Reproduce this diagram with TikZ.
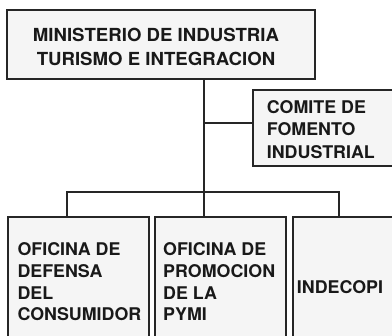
\documentclass[tikz,border=0pt]{standalone}
\usepackage{fontspec}
\setmainfont{TeX Gyre Heros}
\newfontfamily\topfont{TeX Gyre Heros}[FakeStretch=1.035]
\newfontfamily\botfont{TeX Gyre Heros}[FakeStretch=1.02]
\begin{document}
\begin{tikzpicture}[x=1pt,y=-1pt,
  box/.style={draw=black!85,line width=1.1pt,fill=black!4,inner sep=0pt},
  wire/.style={draw=black!85,line width=1.1pt},
  lbl/.style={inner sep=0pt,text=black!90,font=\botfont\fontsize{17.5}{21.8}\selectfont\bfseries}]
\useasboundingbox (0,0) rectangle (392,336);
\clip (0,0) rectangle (392,336);
\fill[white] (0,0) rectangle (392,336);
% boxes
\node[box,minimum width=308pt,minimum height=69pt] (top) at (161,44.5) {};
\node[box,minimum width=147pt,minimum height=76pt] (comite) at (326.5,128) {};
\node[box,minimum width=141pt,minimum height=128pt] (b1) at (78.5,281) {};
\node[box,minimum width=131pt,minimum height=128pt] (b2) at (220.5,281) {};
\node[box,minimum width=107pt,minimum height=128pt] (b3) at (346.5,281) {};
% texts
\node[lbl,align=center,anchor=north,font=\topfont\fontsize{18}{23.4}\selectfont\bfseries] (ttop) at (156,28.3) {MINISTERIO DE INDUSTRIA\\TURISMO E INTEGRACION};
\node[lbl,align=left,anchor=north west,font=\botfont\fontsize{17.5}{22.5}\selectfont\bfseries] (tcom) at (266.7,100) {COMITE DE\\FOMENTO\\INDUSTRIAL};
\node[lbl,align=left,anchor=north west] (tb1) at (17.3,242.3) {OFICINA DE\\DEFENSA\\DEL\\CONSUMIDOR};
\node[lbl,align=left,anchor=north west] (tb2) at (163,242.3) {OFICINA DE\\PROMOCION\\DE LA\\PYMI};
\node[lbl,align=left,anchor=north west] (tb3) at (296.7,280) {INDECOPI};
% connectors
\coordinate (busL) at (67,192);
\coordinate (busM) at (204,192);
\coordinate (busR) at (339,192);
\coordinate (jc) at (204,123);
\draw[wire] (top.south -| busM) -- (busM);
\draw[wire] (jc) -- (jc -| comite.west);
\draw[wire] (b1.north -| busL) -- (busL) -- (busR) -- (b3.north -| busR);
\draw[wire] (busM) -- (b2.north -| busM);
\end{tikzpicture}
\end{document}
